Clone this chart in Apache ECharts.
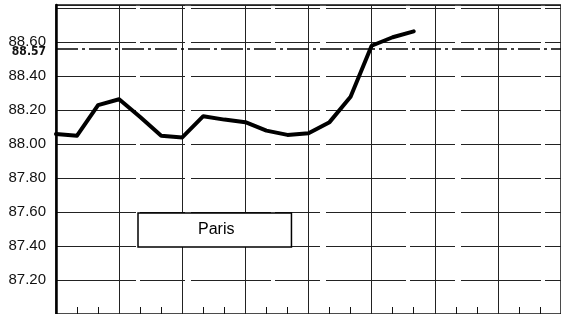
<!DOCTYPE html>
<html>
<head>
<meta charset="utf-8">
<style>
  html, body { margin: 0; padding: 0; background: #fff; }
  #chart { width: 561px; height: 314px; }
</style>
<script src="https://cdn.jsdelivr.net/npm/echarts@6/dist/echarts.min.js"></script>
</head>
<body>
<div id="chart"></div>
<script>
// cours relevés (un point par subdivision de l'axe horizontal)
var seriesName = 'Paris';
var values = [88.06, 88.05, 88.23, 88.265, 88.16, 88.05, 88.04, 88.165, 88.145,
              88.13, 88.08, 88.055, 88.065, 88.13, 88.28, 88.58, 88.63, 88.665];
// ligne de référence : position, libellé imprimé
var refLevel = 88.555;
var refLabel = '88.57';
var yMin = 87.0, yMax = 88.82, yStep = 0.2, yLabelMax = 88.6;
var xMin = 0, xMax = 24, xStep = 3;

var chart = echarts.init(document.getElementById('chart'), null, { renderer: 'canvas' });

var points = values.map(function (v, i) { return [i, v]; });

var option = {
    animation: false,
    backgroundColor: '#fff',
    grid: {
        left: 56,
        top: 5,
        width: 512,
        height: 311,
        show: true,
        borderColor: '#111',
        borderWidth: 1.5,
        backgroundColor: 'transparent'
    },
    legend: {
        data: [seriesName],
        left: 138,
        top: 213,
        padding: [9, 57, 9, 55],
        itemWidth: 0,
        itemHeight: 0,
        icon: 'none',
        borderColor: '#000',
        borderWidth: 1.5,
        backgroundColor: '#fff',
        selectedMode: false,
        textStyle: {
            fontFamily: 'Liberation Sans, Arial, sans-serif',
            fontSize: 16,
            lineHeight: 16,
            color: '#000'
        }
    },
    xAxis: {
        type: 'value',
        min: xMin,
        max: xMax,
        interval: xStep,
        axisLine: { show: false },
        axisLabel: { show: false },
        axisTick: { show: false, inside: true },
        minorTick: { show: true, splitNumber: 3, length: 7, lineStyle: { color: '#111', width: 1 } },
        splitLine: { show: true, lineStyle: { color: '#222', width: 1 } }
    },
    yAxis: {
        type: 'value',
        min: yMin,
        max: yMax,
        interval: yStep,
        axisLine: { show: true, lineStyle: { color: '#000', width: 2.5 } },
        axisTick: { show: false },
        axisLabel: {
            showMinLabel: false,
            showMaxLabel: false,
            margin: 10,
            color: '#111',
            fontFamily: 'Liberation Sans, Arial, sans-serif',
            fontSize: 15,
            formatter: function (v) { return v > yLabelMax + 0.01 ? '' : v.toFixed(2); }
        },
        splitLine: { show: true, lineStyle: { color: '#222', width: 1, type: [80, 4, 45, 6] } }
    },
    series: [
        {
            name: seriesName,
            type: 'line',
            data: points,
            showSymbol: false,
            symbol: 'none',
            lineStyle: { color: '#000', width: 4, join: 'round', cap: 'round' },
            itemStyle: { color: '#000' },
            markLine: {
                silent: true,
                symbol: 'none',
                data: [{ yAxis: refLevel }],
                lineStyle: { color: '#000', width: 1.5, type: [22, 4, 3, 4] },
                label: {
                    position: 'start',
                    distance: 10,
                    offset: [0, 3],
                    formatter: refLabel,
                    color: '#111',
                    fontFamily: 'Liberation Sans Narrow, DejaVu Sans Condensed, sans-serif',
                    fontWeight: 'bold',
                    fontSize: 12
                }
            }
        }
    ]
};

chart.setOption(option);
</script>
</body>
</html>
